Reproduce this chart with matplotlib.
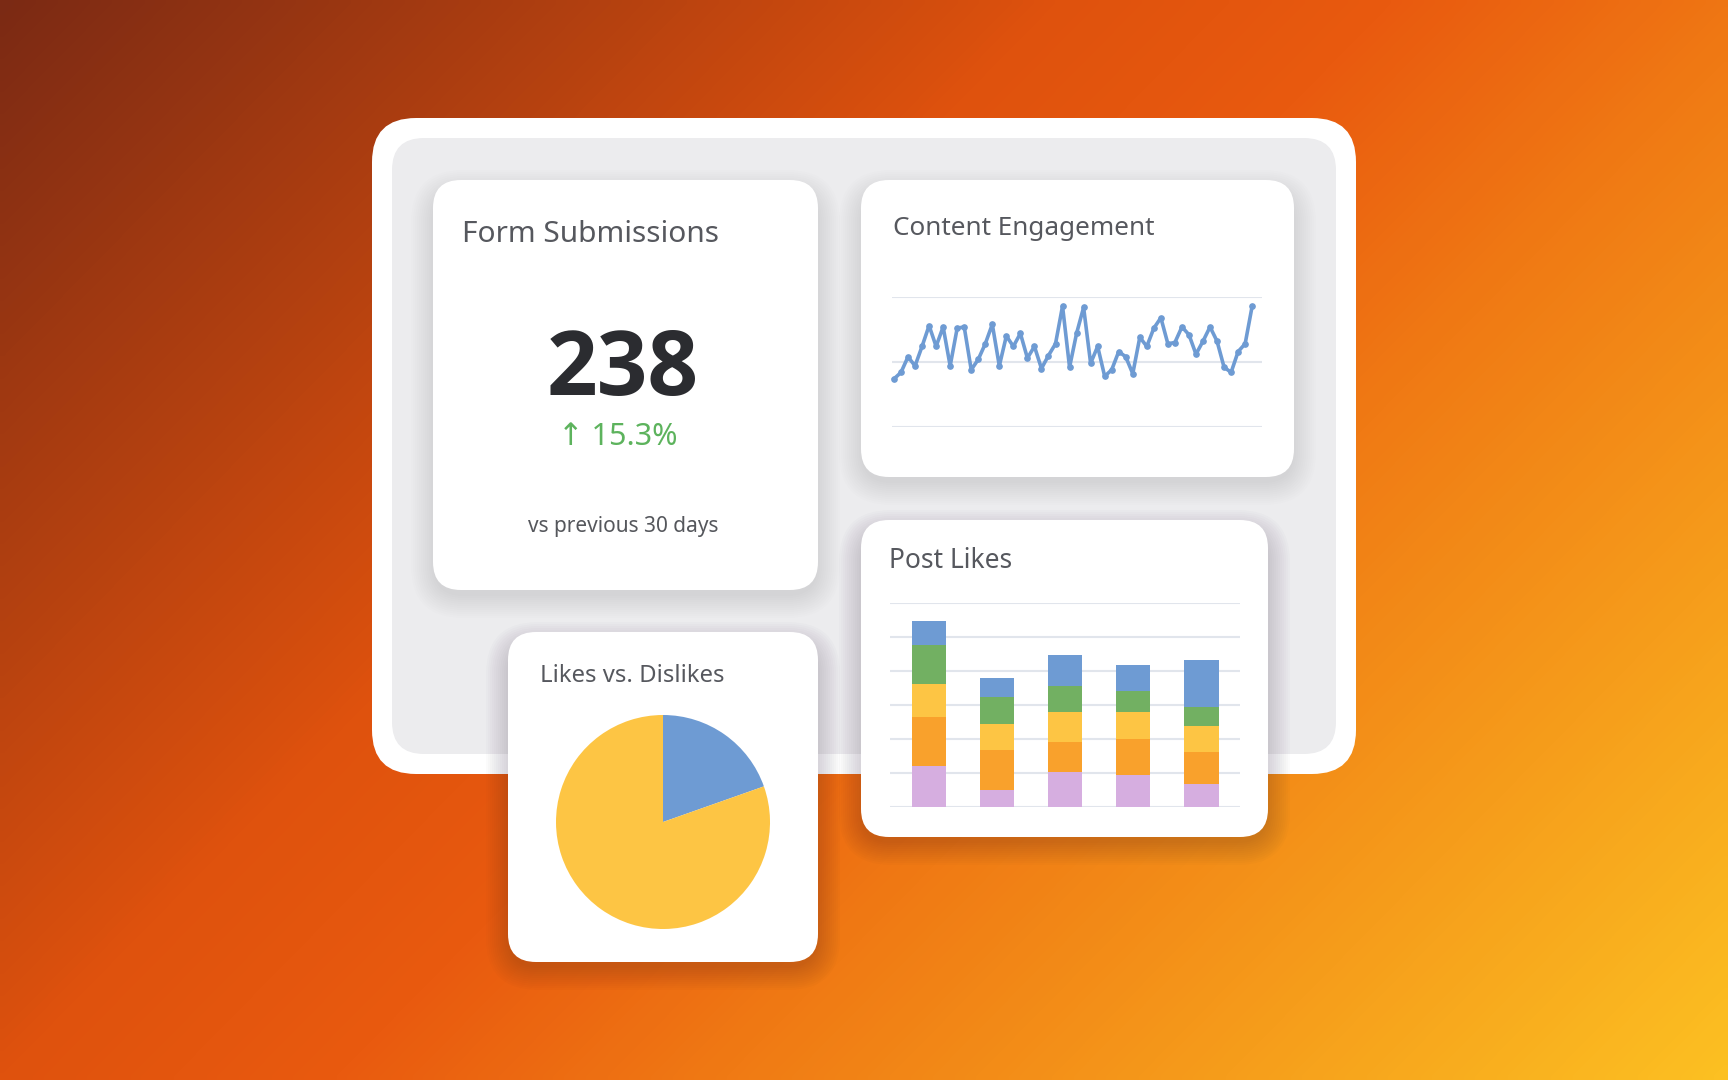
import numpy as np
import matplotlib
matplotlib.use("Agg")
import matplotlib.pyplot as plt
from matplotlib.patches import FancyBboxPatch
from matplotlib.colors import LinearSegmentedColormap

W, H = 1728, 1080

# --- data ---
engagement = [37, 42, 54, 47, 62, 78, 62, 77, 47, 76, 77, 44, 52, 64, 79, 47,
              70, 62, 72, 53, 62, 45, 55, 64, 93, 46, 72, 92, 49, 62, 39, 44,
              58, 54, 41, 69, 62, 76, 84, 64, 65, 77, 71, 56, 66, 77, 66, 46,
              42, 58, 64, 93]

post_groups = ["P1", "P2", "P3", "P4", "P5"]
likes_purple = [1.22, 0.51, 1.03, 0.93, 0.69]
likes_orange = [1.43, 1.16, 0.87, 1.06, 0.93]
likes_yellow = [0.96, 0.77, 0.89, 0.81, 0.77]
likes_green = [1.15, 0.81, 0.78, 0.60, 0.54]
likes_blue = [0.72, 0.54, 0.89, 0.78, 1.38]

pie_labels = ["Dislikes", "Likes"]
pie_values = [19.6, 80.4]

form_total = "238"
form_change = "15.3%"

# colours
BLUE = "#6e9bd3"
GREEN = "#72b062"
YELLOW = "#fdc544"
ORANGE = "#f9a12c"
PURPLE = "#d6aee0"
GRID = "#e1e5ec"
TITLE = "#56585e"
FONT = ["Noto Sans", "DejaVu Sans"]

fig = plt.figure(figsize=(W / 100, H / 100), dpi=100)
bg = fig.add_axes([0, 0, 1, 1])
bg.set_xlim(0, W)
bg.set_ylim(H, 0)
bg.axis("off")

# background gradient
cmap = LinearSegmentedColormap.from_list("bg", [
    (0.0, "#7b2a14"), (0.38, "#df520d"), (0.5, "#e95a0f"),
    (0.64, "#f07a14"), (1.0, "#fcc022")])
gx, gy = np.meshgrid(np.linspace(0, 1, 240), np.linspace(0, 1, 150))
bg.imshow(0.62 * gx + 0.38 * gy, cmap=cmap, extent=(0, W, H, 0),
          aspect="auto", interpolation="bilinear", zorder=0)


def card(x, y, w, h, r, color="white", z=2, shadow=True, sh_alpha=0.008):
    if shadow:
        for i in range(12, 0, -1):
            p = i * 2.0
            bg.add_patch(FancyBboxPatch(
                (x + 2, y + 14), w - 4, h - 10,
                boxstyle=f"round,pad={p},rounding_size={r + p}",
                fc="#2a1f35", ec="none", alpha=sh_alpha, zorder=z - 0.5))
    bg.add_patch(FancyBboxPatch(
        (x, y), w, h, boxstyle=f"round,pad=0,rounding_size={r}",
        fc=color, ec="none", zorder=z))


# panel
card(372, 118, 984, 656, 44, "white", z=1, shadow=False)
card(392, 138, 944, 616, 32, "#ececee", z=1.2, shadow=False)

# cards
card(433, 180, 385, 410, 28, z=2)
card(861, 180, 433, 297, 28, z=2)
card(861, 520, 407, 317, 28, z=3, sh_alpha=0.016)
card(508, 632, 310, 330, 28, z=3, sh_alpha=0.016)

# texts
bg.text(462, 242, "Form Submissions", fontsize=21.5, color=TITLE, family=FONT, zorder=5)
bg.text(623, 395, form_total, fontsize=64, color="#2b2c30",
        family=["Open Sans", "DejaVu Sans"], weight="bold", ha="center", zorder=5)
bg.text(618, 445, "\u2191 " + form_change, fontsize=22, color="#5db35d",
        family=FONT, ha="center", zorder=5)
bg.text(623, 532, "vs previous 30 days", fontsize=15, color="#55575c",
        family=FONT, ha="center", zorder=5)
bg.text(893, 235, "Content Engagement", fontsize=18.8, color=TITLE, family=FONT, zorder=5)
bg.text(889, 568, "Post Likes", fontsize=19, color=TITLE, family=FONT, zorder=5)
bg.text(540, 682, "Likes vs. Dislikes", fontsize=17.2, color=TITLE, family=FONT, zorder=5)


def px_axes(x0, y0, x1, y1):
    ax = fig.add_axes([x0 / W, 1 - y1 / H, (x1 - x0) / W, (y1 - y0) / H])
    ax.patch.set_alpha(0)
    for s in ax.spines.values():
        s.set_visible(False)
    ax.tick_params(length=0, labelleft=False, labelbottom=False)
    return ax


# line chart
ax1 = px_axes(892, 297, 1262, 427)
idx = np.arange(len(engagement))
ax1.plot(idx, engagement, color=BLUE, lw=2.6, marker="o", ms=3.8, zorder=3,
         clip_on=False)
ax1.set_xlim(-0.28, 52.4)
ax1.set_ylim(0, 100)
ax1.set_yticks([0, 50, 100])
ax1.set_xticks([])
ax1.grid(axis="y", color=GRID, lw=1.5)
ax1.set_axisbelow(True)

# stacked bars
ax2 = px_axes(890, 603, 1240, 807)
pos = np.arange(len(post_groups))
bottom = np.zeros(len(post_groups))
for vals, col in [(likes_purple, PURPLE), (likes_orange, ORANGE),
                  (likes_yellow, YELLOW), (likes_green, GREEN), (likes_blue, BLUE)]:
    ax2.bar(pos, vals, 0.5, bottom=bottom, color=col, zorder=3)
    bottom += np.array(vals)
ax2.set_xlim(-0.567, 4.565)
ax2.set_ylim(0, 6)
ax2.set_yticks(range(7))
ax2.set_xticks([])
ax2.grid(axis="y", color=GRID, lw=1.5)
ax2.set_axisbelow(True)

# pie
ax3 = px_axes(556, 715, 770, 929)
ax3.pie(pie_values, colors=[BLUE, YELLOW], startangle=90, counterclock=False,
        radius=1, wedgeprops=dict(linewidth=0))
ax3.set_xlim(-1, 1)
ax3.set_ylim(-1, 1)

fig.savefig("out.png", dpi=100)
